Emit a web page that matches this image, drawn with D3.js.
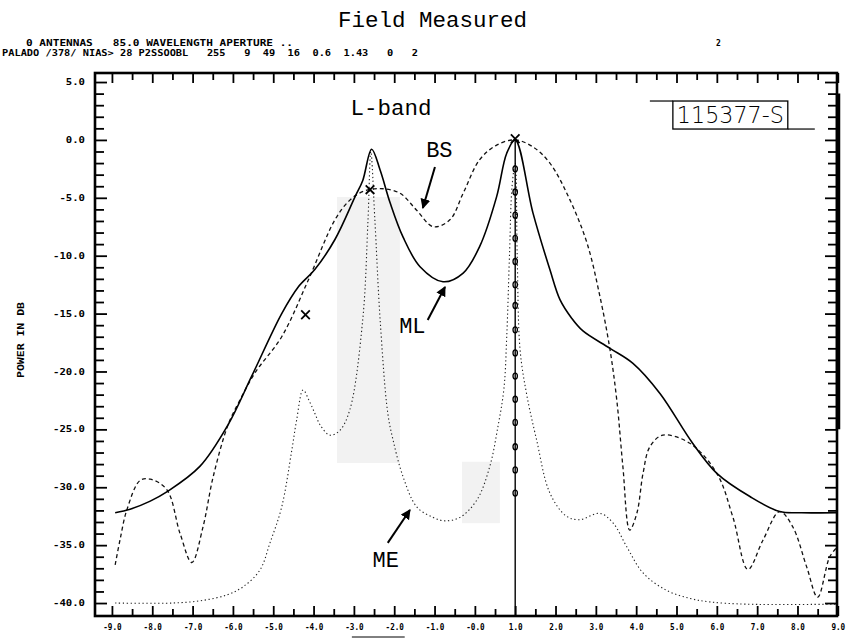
<!DOCTYPE html>
<html>
<head>
<meta charset="utf-8">
<script src="https://cdn.jsdelivr.net/npm/d3@7"></script>
<style>
body { margin: 0; background: #fff; }
svg { display: block; }
.hdr { font-family: "DejaVu Sans Mono", monospace; font-weight: bold; font-size: 8px; fill: #000; }
.axis .tick text { font-family: "DejaVu Sans Mono", monospace; font-weight: bold; font-size: 8px; fill: #000; }
.axis .tick line { stroke: #000; stroke-width: 1.8; }
.lbl { font-family: "Liberation Mono", monospace; fill: #000; }
</style>
</head>
<body>
<svg id="chart" width="854" height="641"></svg>
<script>
// ---- values (x = scan angle, y = power in dB) ----
const mlPoints = [
  [-8.92,-32.2],[-8.55,-31.9],[-8.05,-31.2],[-7.64,-30.4],[-6.82,-28.2],[-6.12,-24.6],
  [-5.54,-20.45],[-4.79,-15.0],[-4.38,-12.7],[-3.97,-11.2],[-3.47,-8.6],[-2.97,-4.9],
  [-2.78,-3.5],[-2.56,-0.8],[-2.35,-2.6],[-2.1,-5.45],[-1.78,-8.4],[-1.36,-10.95],
  [-0.79,-12.25],[-0.29,-11.5],[0.12,-9.2],[0.54,-4.9],[0.79,-1.15],[1.0,0.0],
  [1.44,-6.3],[1.86,-11.2],[2.11,-13.8],[2.4,-15.4],[2.68,-16.5],[3.35,-18.0],
  [3.92,-19.3],[4.59,-21.9],[5.4,-26.2],[6.0,-28.8],[6.82,-30.8],[7.56,-32.1],
  [8.1,-32.2],[8.98,-32.2]
];
const bsPoints = [
  [-8.92,-36.7],[-8.8,-34.55],[-8.63,-31.95],[-8.3,-29.4],[-8.05,-29.3],[-7.64,-30.2],
  [-7.31,-34.0],[-7.02,-36.5],[-6.74,-33.4],[-6.49,-29.1],[-6.12,-24.6],[-5.83,-22.5],
  [-5.45,-20.1],[-4.79,-17.0],[-4.13,-12.1],[-3.47,-6.9],[-3.1,-5.2],[-2.77,-4.45],
  [-2.35,-4.2],[-1.86,-4.6],[-1.45,-6.05],[-1.03,-7.5],[-0.62,-6.9],[-0.29,-4.6],
  [0.12,-1.7],[0.54,-0.45],[1.0,0.0],[1.44,-0.6],[1.86,-2.0],[2.36,-5.2],[2.78,-8.9],
  [3.1,-13.5],[3.35,-18.1],[3.52,-22.5],[3.67,-28.2],[3.84,-33.7],[4.02,-32.2],
  [4.17,-28.8],[4.34,-26.5],[4.66,-25.5],[5.33,-26.2],[6.0,-28.8],[6.4,-32.6],
  [6.77,-37.1],[7.14,-34.6],[7.56,-32.1],[7.88,-33.4],[8.23,-36.9],[8.5,-39.5],
  [8.8,-36.0],[8.98,-35.2]
];
const mePoints = [
  [-8.92,-40.0],[-7.5,-40.0],[-6.8,-39.8],[-6.15,-39.3],[-5.75,-38.6],[-5.33,-37.15],
  [-5.08,-34.8],[-4.79,-31.7],[-4.54,-26.8],[-4.42,-24.2],[-4.26,-21.6],[-4.1,-22.6],
  [-3.97,-23.6],[-3.84,-24.6],[-3.6,-25.5],[-3.35,-25.1],[-3.1,-23.3],[-2.78,-15.5],
  [-2.65,-6.9],[-2.58,-1.0],[-2.48,-6.9],[-2.35,-15.5],[-2.16,-23.6],[-2.03,-25.9],
  [-1.78,-29.1],[-1.44,-31.7],[-1.04,-32.6],[-0.74,-32.9],[-0.37,-32.6],[0.05,-31.1],
  [0.37,-28.2],[0.57,-24.8],[0.72,-21.5],[0.79,-17.0],[0.86,-9.8],[0.92,-4.1],
  [1.0,-2.0],[1.05,-10.0],[1.12,-18.1],[1.28,-21.9],[1.53,-25.9],[1.86,-30.5],
  [2.27,-32.5],[2.6,-32.8],[3.1,-32.25],[3.43,-33.1],[3.76,-35.1],[4.17,-37.4],
  [4.75,-38.9],[5.33,-39.6],[5.82,-39.9],[6.74,-40.1],[8.98,-40.1]
];
const crossMarks = [[-4.2,-15.1],[-2.6,-4.3],[1.0,0.1]];
const peakLineX = 1.0;
const peakLineCircles = [-2.5,-4.5,-6.5,-8.5,-10.5,-12.5,-14.3,-16.4,-18.4,-20.4,-22.4,-24.4,-26.5,-28.5,-30.5];
const shadeBoxes = [[-3.42,-1.86,-27.9,-4.93],[-0.32,0.62,-33.1,-27.8]];

const yMajor = [5,0,-5,-10,-15,-20,-25,-30,-35,-40];
const yTickLabels = ["5.0","0.0","-5.0","-10.0","-15.0","-20.0","-25.0","-30.0","-35.0","-40.0"];
const xMajor = [-9,-8,-7,-6,-5,-4,-3,-2,-1,0,1,2,3,4,5,6,7,8,9];
const xTickLabels = ["-9.0","-8.0","-7.0","-6.0","-5.0","-4.0","-3.0","-2.0","-1.0","-0.0",
                     "1.0","2.0","3.0","4.0","5.0","6.0","7.0","8.0","9.0"];

const curveLabels = [
  {text: "BS", at: [-0.88,-1.48], arrow: [[-0.99,-2.34],[-1.29,-5.88]]},
  {text: "ML", at: [-1.55,-16.68], arrow: [[-1.17,-15.55],[-0.74,-12.7]]},
  {text: "ME", at: [-2.21,-36.9], arrow: [[-2.16,-34.8],[-1.61,-31.96]]}
];
const bandLabel = {text: "L-band", at: [-2.08,2.15]};
const stampLabel = {text: "115377-S", box: [4.91,7.76,0.94,3.36]};

const title = "Field Measured";
const header1 = "0 ANTENNAS   85.0 WAVELENGTH APERTURE ..";
const header1b = "2";
const header2 = "PALADO /378/ NIAS> 28 P2SSOOBL   255   9  49  16  0.6  1.43   0   2";
const yTitle = "POWER IN DB";

// ---- drawing ----
const svg = d3.select("#chart");
const x = d3.scaleLinear().domain([-9.42, 8.98]).range([95, 837]);
const y = d3.scaleLinear().domain([-41.12, 5.78]).range([616, 73]);

// faint scan shading
svg.selectAll("rect.shade").data(shadeBoxes).join("rect")
    .attr("class", "shade")
    .attr("x", d => x(d[0])).attr("y", d => y(d[3]))
    .attr("width", d => x(d[1]) - x(d[0])).attr("height", d => y(d[2]) - y(d[3]))
    .attr("fill", "#f2f2f2");

// header
svg.append("text").attr("class", "lbl").attr("x", 338).attr("y", 27)
    .attr("font-size", 22.5).text(title);
svg.append("text").attr("class", "hdr").attr("x", 26).attr("y", 46)
    .attr("xml:space", "preserve").attr("textLength", 267).attr("lengthAdjust", "spacingAndGlyphs")
    .text(header1);
svg.append("text").attr("class", "hdr").attr("x", 716).attr("y", 46).text(header1b);
svg.append("text").attr("class", "hdr").attr("x", 2).attr("y", 56)
    .attr("xml:space", "preserve").attr("textLength", 416).attr("lengthAdjust", "spacingAndGlyphs")
    .text(header2);

// y title
svg.append("text").attr("class", "hdr")
    .attr("transform", "translate(24,340) rotate(-90)")
    .attr("text-anchor", "middle").attr("textLength", 76).attr("lengthAdjust", "spacingAndGlyphs")
    .text(yTitle);

// axes (ticks point inward, like the plotter frame)
function axisG(cls, tx, ty) {
    return svg.append("g").attr("class", "axis " + cls).attr("transform", `translate(${tx},${ty})`);
}
const xMinor = d3.range(-9.0, 9.01, 0.5).filter(v => !xMajor.includes(v));
const yMinor = d3.range(-40, 6, 1).filter(v => !yMajor.includes(v));

axisG("xb", 0, y.range()[0]).call(d3.axisBottom(x).tickValues(xMajor)
    .tickFormat(d => xTickLabels[xMajor.indexOf(d)]).tickSizeInner(-10).tickSizeOuter(0).tickPadding(8));
axisG("xb2", 0, y.range()[0]).call(d3.axisBottom(x).tickValues(xMinor)
    .tickFormat("").tickSizeInner(-7).tickSizeOuter(0));
axisG("xt", 0, y.range()[1]).call(d3.axisTop(x).tickValues(xMajor)
    .tickFormat("").tickSizeInner(-10).tickSizeOuter(0));
axisG("xt2", 0, y.range()[1]).call(d3.axisTop(x).tickValues(xMinor)
    .tickFormat("").tickSizeInner(-7).tickSizeOuter(0));
axisG("yl", x.range()[0], 0).call(d3.axisLeft(y).tickValues(yMajor)
    .tickFormat(d => yTickLabels[yMajor.indexOf(d)]).tickSizeInner(-12).tickSizeOuter(0).tickPadding(10));
axisG("yl2", x.range()[0], 0).call(d3.axisLeft(y).tickValues(yMinor)
    .tickFormat("").tickSizeInner(-9).tickSizeOuter(0));
axisG("yr", x.range()[1], 0).call(d3.axisRight(y).tickValues(yMajor)
    .tickFormat("").tickSizeInner(-12).tickSizeOuter(0));
axisG("yr2", x.range()[1], 0).call(d3.axisRight(y).tickValues(yMinor)
    .tickFormat("").tickSizeInner(-9).tickSizeOuter(0));
svg.selectAll(".axis .domain").remove();

// squeeze the dot-matrix labels to the widths in the scan
svg.selectAll(".yl .tick text").attr("textLength", function() { return this.textContent.length * 6.4; })
    .attr("lengthAdjust", "spacingAndGlyphs");
svg.selectAll(".xb .tick text").attr("textLength", function() { return this.textContent.length * 4.6; })
    .attr("lengthAdjust", "spacingAndGlyphs");

// hand underline below -3.0 / -2.0
svg.append("line").attr("x1", x(-3.05)).attr("x2", x(-1.74))
    .attr("y1", y.range()[0] + 21).attr("y2", y.range()[0] + 21)
    .attr("stroke", "#000").attr("stroke-width", 1);

// plot frame (right edge is inked heavier in the upper part of the scan)
svg.append("rect").attr("x", x.range()[0]).attr("y", y.range()[1])
    .attr("width", x.range()[1] - x.range()[0]).attr("height", y.range()[0] - y.range()[1])
    .attr("fill", "none").attr("stroke", "#000").attr("stroke-width", 2.6);
svg.append("line").attr("x1", x.range()[1] + 1).attr("x2", x.range()[1] + 1)
    .attr("y1", y(4)).attr("y2", y(-25))
    .attr("stroke", "#000").attr("stroke-width", 4.5);

// curves
svg.append("clipPath").attr("id", "plotclip").append("rect")
    .attr("x", x.range()[0]).attr("y", y.range()[1])
    .attr("width", x.range()[1] - x.range()[0]).attr("height", y.range()[0] - y.range()[1]);
const plot = svg.append("g").attr("clip-path", "url(#plotclip)");
const line = d3.line().x(d => x(d[0])).y(d => y(d[1])).curve(d3.curveCatmullRom.alpha(0.5));

plot.append("path").datum(mePoints).attr("d", line)
    .attr("fill", "none").attr("stroke", "#222").attr("stroke-width", 1.1).attr("stroke-dasharray", "1.3,2.6");
plot.append("path").datum(bsPoints).attr("d", line)
    .attr("fill", "none").attr("stroke", "#111").attr("stroke-width", 1.3).attr("stroke-dasharray", "4,3");
plot.append("path").datum(mlPoints).attr("d", line)
    .attr("fill", "none").attr("stroke", "#000").attr("stroke-width", 1.6);

// vertical line through the main peak with the small circles
plot.append("line").attr("x1", x(peakLineX)).attr("x2", x(peakLineX))
    .attr("y1", y(0)).attr("y2", y.range()[0]).attr("stroke", "#000").attr("stroke-width", 1.4);
plot.selectAll("ellipse.mk").data(peakLineCircles).join("ellipse")
    .attr("class", "mk").attr("cx", x(peakLineX)).attr("cy", d => y(d))
    .attr("rx", 2.2).attr("ry", 3).attr("fill", "none").attr("stroke", "#000").attr("stroke-width", 1.3);

// x markers
const cross = d3.symbol().type(d3.symbolX).size(50);
plot.selectAll("path.cross").data(crossMarks).join("path")
    .attr("class", "cross").attr("d", cross)
    .attr("transform", d => `translate(${x(d[0])},${y(d[1])})`)
    .attr("fill", "none").attr("stroke", "#000").attr("stroke-width", 1.8);

// annotations
svg.append("defs").append("marker").attr("id", "head")
    .attr("viewBox", "0 0 10 10").attr("refX", 9).attr("refY", 5)
    .attr("markerWidth", 5).attr("markerHeight", 5).attr("orient", "auto")
    .append("path").attr("d", "M0,0 L10,5 L0,10 Z").attr("fill", "#000");
curveLabels.forEach(c => {
    svg.append("text").attr("class", "lbl").attr("x", x(c.at[0])).attr("y", y(c.at[1]))
        .attr("text-anchor", "middle").attr("font-size", 22).text(c.text);
    svg.append("line").attr("x1", x(c.arrow[0][0])).attr("y1", y(c.arrow[0][1]))
        .attr("x2", x(c.arrow[1][0])).attr("y2", y(c.arrow[1][1]))
        .attr("stroke", "#000").attr("stroke-width", 2).attr("marker-end", "url(#head)");
});
svg.append("text").attr("class", "lbl").attr("x", x(bandLabel.at[0])).attr("y", y(bandLabel.at[1]))
    .attr("text-anchor", "middle").attr("font-size", 22.5).text(bandLabel.text);

// stamped reference number box
const b = stampLabel.box;
svg.append("rect").attr("x", x(b[0])).attr("y", y(b[3]))
    .attr("width", x(b[1]) - x(b[0])).attr("height", y(b[2]) - y(b[3]))
    .attr("fill", "#fff").attr("stroke", "#000").attr("stroke-width", 1.3);
svg.append("line").attr("x1", x(b[0]) - 23).attr("x2", x(b[0]))
    .attr("y1", y(b[3])).attr("y2", y(b[3])).attr("stroke", "#000").attr("stroke-width", 1.2);
svg.append("line").attr("x1", x(b[1])).attr("x2", x(b[1]) + 27)
    .attr("y1", y(b[2])).attr("y2", y(b[2])).attr("stroke", "#000").attr("stroke-width", 1.2);
svg.append("text").attr("x", x(b[0]) + 4).attr("y", y(b[2]) - 6)
    .attr("font-family", "DejaVu Sans, sans-serif").attr("font-size", 23).attr("font-weight", 300)
    .attr("textLength", x(b[1]) - x(b[0]) - 8).attr("lengthAdjust", "spacingAndGlyphs")
    .text(stampLabel.text);
</script>
</body>
</html>
